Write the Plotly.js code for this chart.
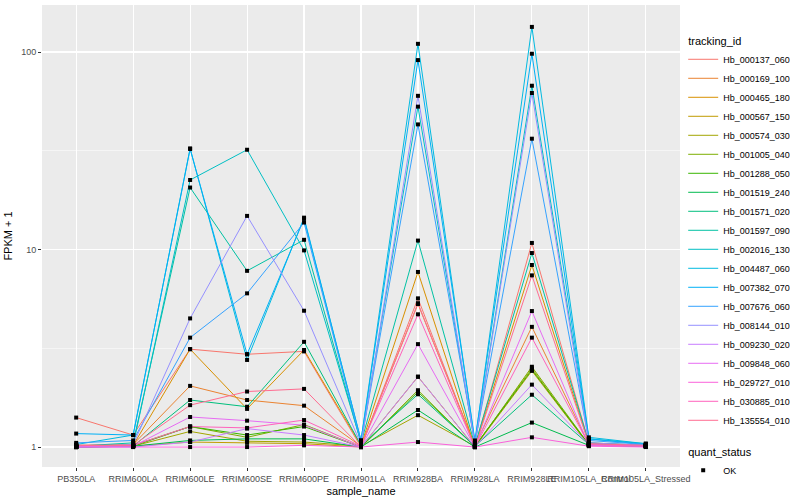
<!DOCTYPE html>
<html>
<head>
<meta charset="utf-8">
<script src="https://cdn.plot.ly/plotly-3.0.1.min.js"></script>
<style>html,body{margin:0;padding:0;background:#fff}#chart{width:800px;height:500px}</style>
</head>
<body>
<div id="chart"></div>
<script>
// categories
const samples = ["PB350LA","RRIM600LA","RRIM600LE","RRIM600SE","RRIM600PE","RRIM901LA","RRIM928BA","RRIM928LA","RRIM928LE","RRIM105LA_Control","RRIM105LA_Stressed"];
// tracking ids (legend order)
const trackingIds = ["Hb_000137_060","Hb_000169_100","Hb_000465_180","Hb_000567_150","Hb_000574_030","Hb_001005_040","Hb_001288_050","Hb_001519_240","Hb_001571_020","Hb_001597_090","Hb_002016_130","Hb_004487_060","Hb_007382_070","Hb_007676_060","Hb_008144_010","Hb_009230_020","Hb_009848_060","Hb_029727_010","Hb_030885_010","Hb_135554_010"];
// FPKM + 1 values per tracking id, in sample order
const v_000137_060 = [1.41, 1.15, 3.13, 2.95, 3.05, 1.00, 5.66, 1.00, 10.8, 1.05, 1.02];
const v_000169_100 = [1.02, 1.03, 2.04, 1.73, 1.62, 1.01, 5.30, 1.02, 4.06, 1.03, 1.01];
const v_000465_180 = [1.00, 1.02, 3.13, 1.56, 3.10, 1.02, 7.70, 1.00, 8.35, 1.04, 1.02];
const v_000567_150 = [1.00, 1.01, 1.06, 1.05, 1.04, 1.00, 2.27, 1.00, 2.43, 1.02, 1.01];
const v_000574_030 = [1.02, 1.01, 1.20, 1.07, 1.06, 1.01, 1.45, 1.01, 2.50, 1.02, 1.01];
const v_001005_040 = [1.01, 1.02, 1.27, 1.12, 1.30, 1.00, 1.94, 1.00, 2.55, 1.03, 1.01];
const v_001288_050 = [1.00, 1.01, 1.27, 1.15, 1.27, 1.00, 1.90, 1.01, 2.46, 1.03, 1.01];
const v_001519_240 = [1.00, 1.01, 1.08, 1.10, 1.10, 1.00, 1.54, 1.00, 1.33, 1.02, 1.01];
const v_001571_020 = [1.00, 1.01, 1.73, 1.60, 3.41, 1.02, 1.85, 1.01, 1.84, 1.03, 1.01];
const v_001597_090 = [1.01, 1.05, 20.6, 7.80, 11.2, 1.05, 11.1, 1.02, 9.60, 1.05, 1.02];
const v_002016_130 = [1.00, 1.02, 22.5, 32.0, 9.90, 1.06, 52.9, 1.03, 67.5, 1.10, 1.04];
const v_004487_060 = [1.03, 1.15, 32.5, 2.76, 14.5, 1.08, 110, 1.05, 134, 1.12, 1.04];
const v_007382_070 = [1.17, 1.15, 32.3, 2.95, 14.3, 1.08, 91.0, 1.08, 98.0, 1.10, 1.03];
const v_007676_060 = [1.05, 1.08, 3.58, 6.00, 13.7, 1.05, 43.0, 1.05, 36.4, 1.08, 1.03];
const v_008144_010 = [1.00, 1.03, 4.48, 14.8, 4.90, 1.03, 60.0, 1.03, 62.0, 1.05, 1.02];
const v_009230_020 = [1.00, 1.00, 1.06, 1.24, 1.15, 1.00, 2.27, 1.00, 2.07, 1.03, 1.01];
const v_009848_060 = [1.01, 1.01, 1.42, 1.36, 1.29, 1.00, 3.32, 1.00, 4.88, 1.02, 1.01];
const v_029727_010 = [1.00, 1.00, 1.00, 1.00, 1.02, 1.00, 1.06, 1.00, 1.12, 1.01, 1.00];
const v_030885_010 = [1.02, 1.02, 1.27, 1.25, 1.37, 1.01, 4.70, 1.00, 3.58, 1.03, 1.01];
const v_135554_010 = [1.02, 1.02, 1.63, 1.91, 1.97, 1.00, 5.35, 1.00, 7.40, 1.04, 1.02];
const seriesValues = [v_000137_060,v_000169_100,v_000465_180,v_000567_150,v_000574_030,v_001005_040,v_001288_050,v_001519_240,v_001571_020,v_001597_090,v_002016_130,v_004487_060,v_007382_070,v_007676_060,v_008144_010,v_009230_020,v_009848_060,v_029727_010,v_030885_010,v_135554_010];
const colors = ["#F8766D","#EA8331","#D89000","#C09B00","#A3A500","#7CAE00","#39B600","#00BB4E","#00BF7D","#00C1A3","#00BFC4","#00BAE0","#00B0F6","#35A2FF","#9590FF","#C77CFF","#E76BF3","#FA62DB","#FF62BC","#FF6C91"];
const yTicks = [1, 10, 100];
const yTickText = ["1", "10", "100"];
const yMinor = [3.1623, 31.623];
const statusName = "OK";

const traces = [];
trackingIds.forEach((id, i) => {
  traces.push({
    type: "scatter", mode: "lines", x: samples, y: seriesValues[i], name: id,
    line: {color: colors[i], width: 1},
    legendgroup: "tracking",
    legendgrouptitle: {text: "tracking_id", font: {size: 11, color: "#000"}},
    hoverinfo: "skip"
  });
});
// points
const px = [], py = [];
seriesValues.forEach(arr => arr.forEach((v, j) => { px.push(samples[j]); py.push(v); }));
traces.push({
  type: "scatter", mode: "markers", x: px, y: py, name: statusName,
  marker: {symbol: "square", size: 4, color: "#000"},
  legendgroup: "status",
  legendgrouptitle: {text: "quant_status", font: {size: 11, color: "#000"}},
  hoverinfo: "skip"
});

const layout = {
  width: 800, height: 500,
  margin: {l: 42, r: 110, t: 5, b: 33},
  paper_bgcolor: "#FFFFFF",
  plot_bgcolor: "#EBEBEB",
  font: {family: "Liberation Sans, Arial, sans-serif", size: 9, color: "#000"},
  showlegend: true,
  legend: {
    x: 1.005, xanchor: "left", y: 0.955, yanchor: "top",
    font: {size: 9, color: "#000"}, tracegroupgap: 12,
    bgcolor: "rgba(0,0,0,0)", itemwidth: 30
  },
  xaxis: {
    type: "category", categoryorder: "array", categoryarray: samples,
    range: [-0.6, 10.6],
    showgrid: true, gridcolor: "#FFFFFF", gridwidth: 1.1,
    zeroline: false, showline: false,
    ticks: "outside", ticklen: 3, tickcolor: "#333333", tickwidth: 1,
    tickfont: {size: 9, color: "#4D4D4D"}, tickangle: 0,
    title: {text: "sample_name", font: {size: 11, color: "#000"}, standoff: 4}
  },
  yaxis: {
    type: "log", range: [-0.101, 2.238],
    tickmode: "array", tickvals: yTicks, ticktext: yTickText,
    showgrid: true, gridcolor: "#FFFFFF", gridwidth: 1.1,
    minor: {tickmode: "array", tickvals: yMinor, showgrid: true, gridcolor: "#FFFFFF", gridwidth: 0.5, ticks: ""},
    zeroline: false, showline: false,
    ticks: "outside", ticklen: 3, tickcolor: "#333333", tickwidth: 1,
    tickfont: {size: 9, color: "#4D4D4D"},
    title: {text: "FPKM + 1", font: {size: 11, color: "#000"}, standoff: 6}
  }
};
Plotly.newPlot("chart", traces, layout, {displayModeBar: false, staticPlot: true});
</script>
</body>
</html>
